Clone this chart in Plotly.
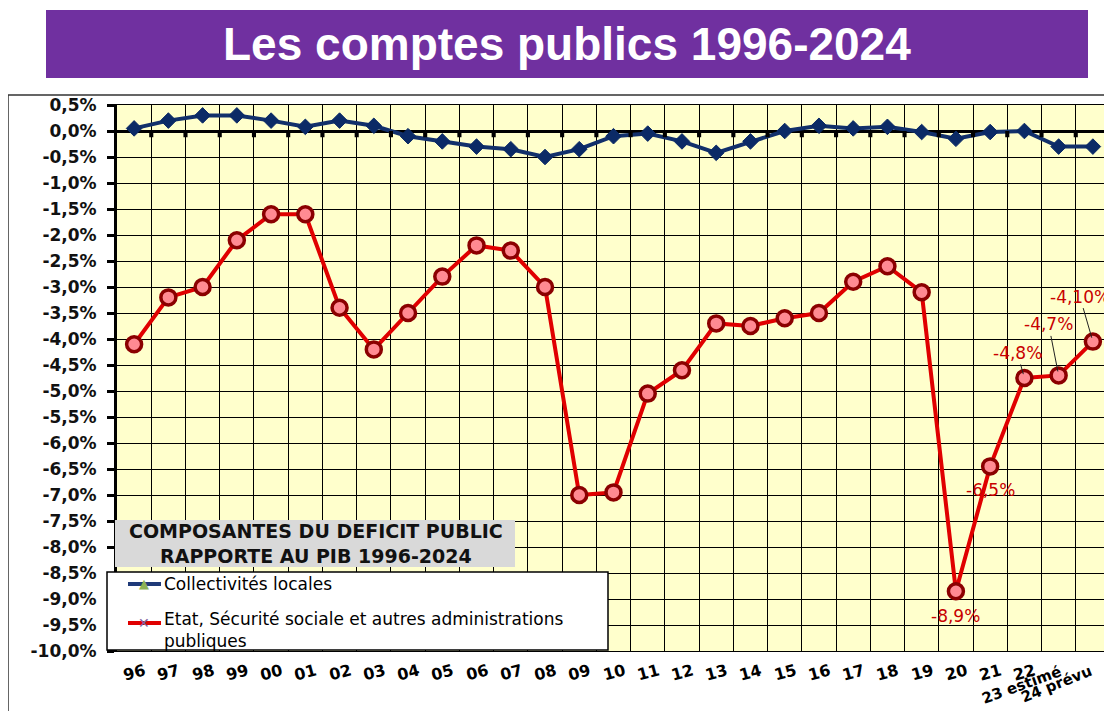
import plotly.graph_objects as go

categories = ["96", "97", "98", "99", "00", "01", "02", "03", "04", "05", "06", "07", "08", "09",
              "10", "11", "12", "13", "14", "15", "16", "17", "18", "19", "20", "21", "22",
              "23 estimé", "24 prévu"]
collectivites = [0.05, 0.2, 0.3, 0.3, 0.2, 0.08, 0.2, 0.1, -0.1, -0.2, -0.3, -0.35, -0.5, -0.35,
                 -0.1, -0.05, -0.2, -0.42, -0.2, 0.0, 0.1, 0.05, 0.08, -0.02, -0.15, -0.02, 0.0,
                 -0.3, -0.3]
etat = [-4.1, -3.2, -3.0, -2.1, -1.6, -1.6, -3.4, -4.2, -3.5, -2.8, -2.2, -2.3, -3.0, -7.0,
        -6.95, -5.05, -4.6, -3.7, -3.75, -3.6, -3.5, -2.9, -2.6, -3.1, -8.85, -6.45, -4.75,
        -4.7, -4.05]
y_ticks = [0.5, 0.0, -0.5, -1.0, -1.5, -2.0, -2.5, -3.0, -3.5, -4.0, -4.5, -5.0, -5.5, -6.0,
           -6.5, -7.0, -7.5, -8.0, -8.5, -9.0, -9.5, -10.0]
y_tick_text = ["0,5%", "0,0%", "-0,5%", "-1,0%", "-1,5%", "-2,0%", "-2,5%", "-3,0%", "-3,5%",
               "-4,0%", "-4,5%", "-5,0%", "-5,5%", "-6,0%", "-6,5%", "-7,0%", "-7,5%", "-8,0%",
               "-8,5%", "-9,0%", "-9,5%", "-10,0%"]
# labelled points: (category, text)
point_labels = [("20", "-8,9%"), ("21", "-6,5%"), ("22", "-4,8%"), ("23 estimé", "-4,7%"),
                ("24 prévu", "-4,10%")]
title = "Les comptes publics 1996-2024"
box_title = "COMPOSANTES DU DEFICIT PUBLIC<br>RAPPORTE AU PIB 1996-2024"
legend_names = ["Collectivités locales",
                "Etat, Sécurité sociale et autres administrations<br>publiques"]

# the page body adds an 8px offset; work in page pixel coordinates
OFF = 8
W, H = 1112 - OFF, 711 - OFF
L, T = 117 - OFF, 105 - OFF
R = W - (1110 - OFF)
B = H - (651 - OFF)
PW, PH = W - L - R, H - T - B


def px(x):
    return (x - OFF - L) / PW


def py(y):
    return (H - B - (y - OFF)) / PH


fig = go.Figure()
fig.add_trace(go.Scatter(
    x=categories, y=collectivites, mode="lines+markers", name=legend_names[0],
    line=dict(color="#12306B", width=4),
    marker=dict(symbol="diamond", size=12, color="#0B2A66", line=dict(color="#0B2A66", width=1)),
    showlegend=False, cliponaxis=False))
fig.add_trace(go.Scatter(
    x=categories, y=etat, mode="lines+markers", name=legend_names[1],
    line=dict(color="#E00000", width=4),
    marker=dict(symbol="circle", size=15, color="#FF8A92", line=dict(color="#8B0000", width=3.5)),
    showlegend=False, cliponaxis=False))

shapes = []
# outer frame
shapes.append(dict(type="rect", xref="paper", yref="paper", x0=px(8), x1=px(1111), y0=py(712),
                   y1=py(95), line=dict(color="#333333", width=1.5), layer="below"))
# title box
shapes.append(dict(type="rect", xref="paper", yref="paper", x0=px(46), x1=px(1088), y0=py(78),
                   y1=py(10), line=dict(width=0), fillcolor="#7030A0"))
# small tick marks on zero line at category boundaries
for i in range(len(categories) - 1):
    shapes.append(dict(type="rect", xref="x", yref="y", x0=i + 0.5 - 0.06, x1=i + 0.5 + 0.06,
                       y0=-0.12, y1=0, line=dict(width=0), fillcolor="black"))
# grey box
shapes.append(dict(type="rect", xref="paper", yref="paper", x0=px(115), x1=px(515), y0=py(567),
                   y1=py(520), line=dict(width=0), fillcolor="#D9D9D9"))
# legend box
shapes.append(dict(type="rect", xref="paper", yref="paper", x0=px(107), x1=px(608), y0=py(650),
                   y1=py(572), line=dict(color="black", width=1.5), fillcolor="white"))
shapes.append(dict(type="line", xref="paper", yref="paper", x0=px(128), x1=px(161), y0=py(584),
                   y1=py(584), line=dict(color="#1F3A78", width=4)))
shapes.append(dict(type="line", xref="paper", yref="paper", x0=px(128), x1=px(161), y0=py(623),
                   y1=py(623), line=dict(color="#E00000", width=4)))

annotations = []
annotations.append(dict(xref="paper", yref="paper", x=px(567), y=py(44), text="<b>" + title + "</b>",
                        showarrow=False, font=dict(family="Liberation Sans", size=46, color="white"),
                        xanchor="center", yanchor="middle"))
annotations.append(dict(xref="paper", yref="paper", x=px(316), y=py(543), text="<b>" + box_title + "</b>",
                        showarrow=False, font=dict(family="DejaVu Sans", size=19, color="#111111"),
                        xanchor="center", yanchor="middle"))
annotations.append(dict(xref="paper", yref="paper", x=px(144), y=py(583), text="▲",
                        showarrow=False, font=dict(family="DejaVu Sans", size=13, color="#8DB255"),
                        xanchor="center", yanchor="middle"))
annotations.append(dict(xref="paper", yref="paper", x=px(144), y=py(623), text="✕",
                        showarrow=False, font=dict(family="DejaVu Sans", size=14, color="#8064A2"),
                        xanchor="center", yanchor="middle"))
annotations.append(dict(xref="paper", yref="paper", x=px(162), y=py(584), text=legend_names[0],
                        showarrow=False, font=dict(family="DejaVu Sans", size=17, color="black"),
                        xanchor="left", yanchor="middle"))
annotations.append(dict(xref="paper", yref="paper", x=px(162), y=py(630), text=legend_names[1],
                        showarrow=False, font=dict(family="DejaVu Sans", size=17, color="black"),
                        xanchor="left", yanchor="middle", align="left"))

# x tick labels (category index positions on the category axis)
# (angle, xshift, yshift, size)
label_style = {"23 estimé": (-20, -37, -13, 15), "24 prévu": (-22, -36, -12, 15)}
for i, c in enumerate(categories):
    ang, xs, ys, sz = label_style.get(c, (-15, 0, 0, 16))
    annotations.append(dict(xref="x", yref="paper", x=i, y=py(672), text="<b>" + c + "</b>",
                            showarrow=False, textangle=ang, xshift=xs, yshift=ys,
                            font=dict(family="DejaVu Sans", size=sz, color="black"),
                            xanchor="center", yanchor="middle"))

# data labels
label_pos = {"20": (0, 25, False), "21": (0, 24, False), "22": (-7, -25, True),
             "23 estimé": (-10, -51, True), "24 prévu": (-13, -45, True)}
for c, txt in point_labels:
    i = categories.index(c)
    ax, ay, arrow = label_pos[c]
    if arrow:
        annotations.append(dict(xref="x", yref="y", x=i, y=etat[i], text=txt, showarrow=True,
                                ax=ax, ay=ay, arrowhead=0, arrowwidth=1, arrowcolor="#222222",
                                standoff=4, font=dict(family="DejaVu Sans", size=17, color="#C80000")))
    else:
        annotations.append(dict(xref="x", yref="y", x=i, y=etat[i], text=txt, showarrow=False,
                                yshift=-ay, font=dict(family="DejaVu Sans", size=17, color="#C80000")))

fig.update_layout(
    width=W, height=H,
    margin=dict(l=L, r=R, t=T, b=B),
    paper_bgcolor="white", plot_bgcolor="#FFFFCC",
    showlegend=False,
    shapes=shapes, annotations=annotations,
    xaxis=dict(type="category", categoryorder="array", categoryarray=categories,
               tickson="boundaries", showgrid=True, gridcolor="black", gridwidth=1,
               showticklabels=False, ticks="", showline=True, linecolor="black", linewidth=1,
               mirror=True, range=[-0.5, len(categories) - 0.5], zeroline=False),
    yaxis=dict(range=[-10, 0.5], tickvals=y_ticks,
               ticktext=["<b>" + t + "</b>" for t in y_tick_text], showgrid=True,
               gridcolor="black", gridwidth=1, zeroline=True, zerolinecolor="black",
               zerolinewidth=3, showline=True, linecolor="black", linewidth=3,
               ticks="outside", ticklen=7, tickwidth=3, tickcolor="black",
               tickfont=dict(family="DejaVu Sans", size=17, color="#111111"),
               ticklabelstandoff=7),
    font=dict(family="DejaVu Sans"),
)

fig.write_html("out.html")
